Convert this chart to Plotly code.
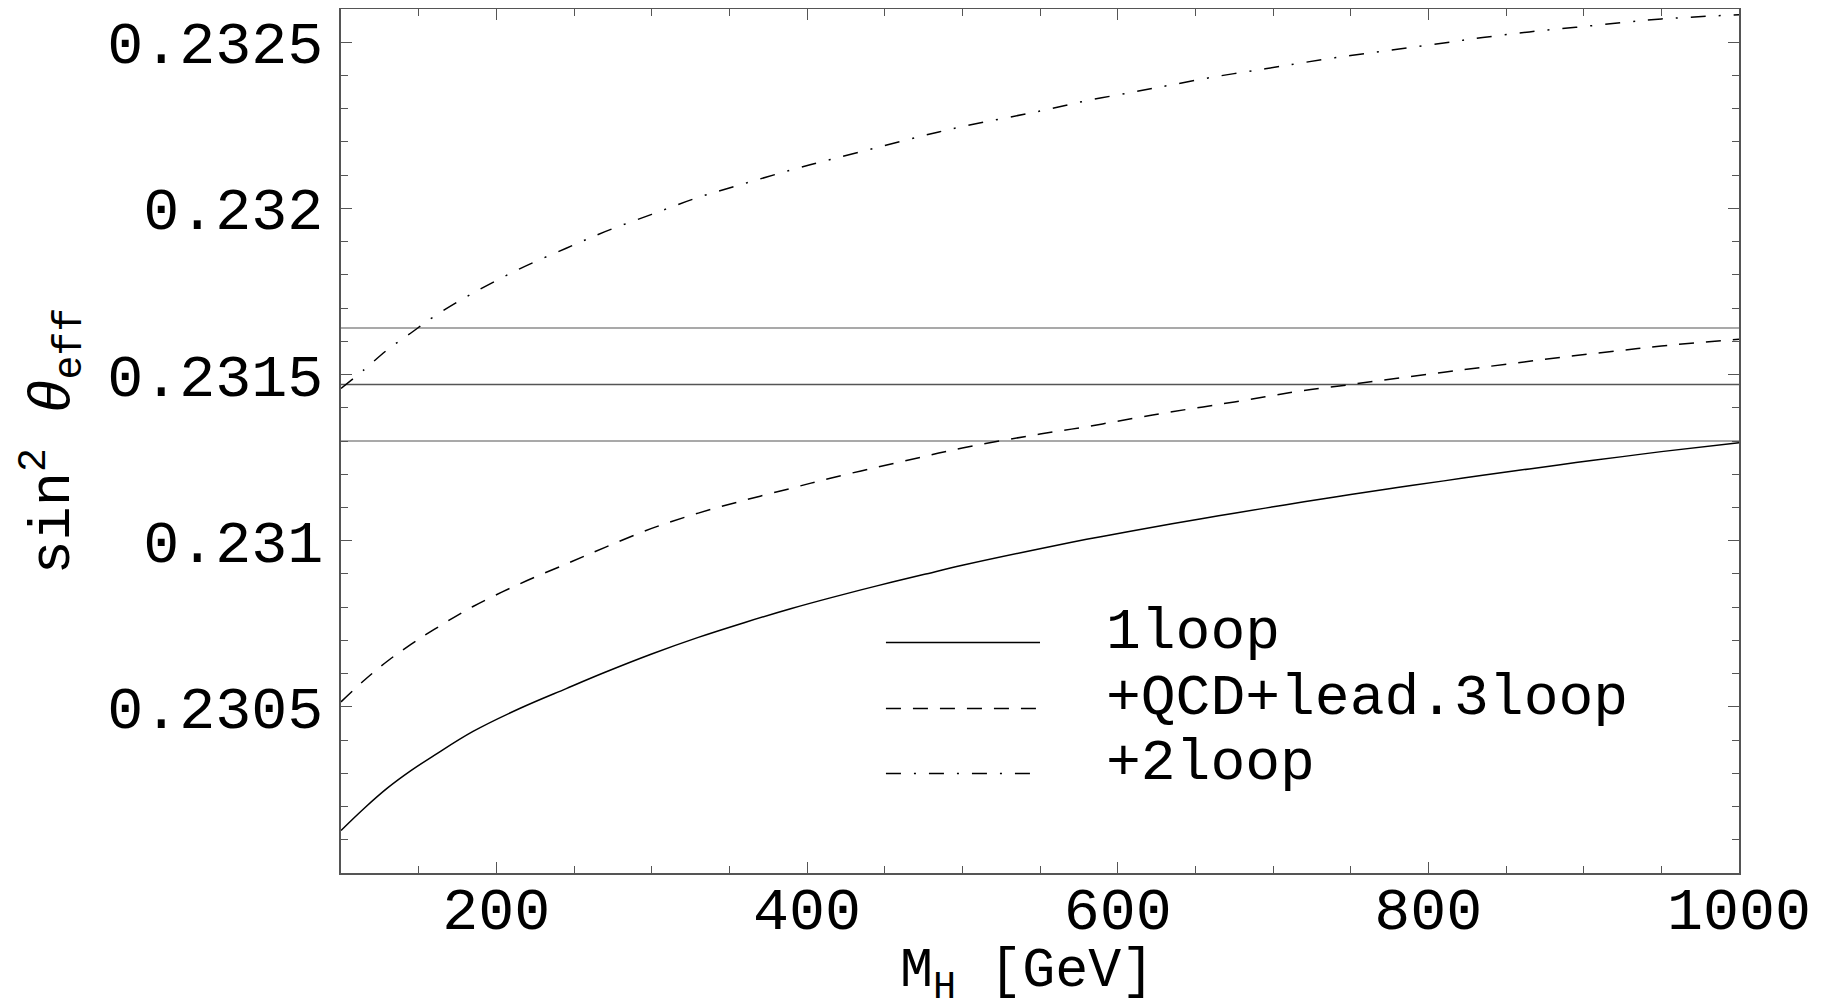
import plotly.graph_objects as go

# ---- data ----
mh = [100, 115, 130, 145, 160, 185, 215, 245, 270, 300, 330, 360, 390, 415, 445, 475, 500,
      550, 580, 610, 635, 665, 695, 720, 750, 780, 810, 835, 865, 895, 925, 950, 1000]

one_loop = [0.230128, 0.230195, 0.230256, 0.230308, 0.230354, 0.230426, 0.230495, 0.230555,
            0.230604, 0.230659, 0.230709, 0.230754, 0.230796, 0.230828, 0.230864, 0.230898,
            0.230926, 0.230976, 0.231004, 0.231030, 0.231051, 0.231075, 0.231098, 0.231117,
            0.231139, 0.231160, 0.231180, 0.231197, 0.231216, 0.231235, 0.231253, 0.231268,
            0.231295]

qcd_lead3loop = [0.230515, 0.230580, 0.230638, 0.230688, 0.230733, 0.230802, 0.230870, 0.230930,
                 0.230980, 0.231037, 0.231083, 0.231122, 0.231158, 0.231188, 0.231221, 0.231253,
                 0.231279, 0.231321, 0.231343, 0.231368, 0.231388, 0.231410, 0.231433, 0.231452,
                 0.231470, 0.231489, 0.231507, 0.231522, 0.231540, 0.231557, 0.231573, 0.231586,
                 0.231606]

two_loop = [0.231458, 0.231515, 0.231575, 0.231625, 0.231675, 0.231745, 0.231818, 0.231880,
            0.231930, 0.231982, 0.232033, 0.232075, 0.232116, 0.232147, 0.232183, 0.232219,
            0.232246, 0.232293, 0.232324, 0.232350, 0.232372, 0.232398, 0.232420, 0.232439,
            0.232460, 0.232479, 0.232498, 0.232514, 0.232531, 0.232545, 0.232559, 0.232570,
            0.232583]

exp_center = 0.23147
exp_error = 0.00017

series_names = ["1loop", "+QCD+lead.3loop", "+2loop"]

x_tick_vals = [200, 400, 600, 800, 1000]
x_tick_text = ["200", "400", "600", "800", "1000"]
y_tick_vals = [0.2305, 0.2310, 0.2315, 0.2320, 0.2325]
y_tick_text = ["0.2305", "0.231", "0.2315", "0.232", "0.2325"]

x_range = [100, 1000]
y_range = [0.2300, 0.2326]

# ---- styling ----
FONT = "Liberation Mono, Courier New, monospace"
AXIS_COL = "#555555"
DASH = "15px,12px"
DASHDOT = "15px,13px,2px,13px"

fig = go.Figure()

# experimental band lines
for val, col in [(exp_center + exp_error, "#8c8c8c"), (exp_center, "#555555"), (exp_center - exp_error, "#8c8c8c")]:
    fig.add_trace(go.Scatter(x=[x_range[0], x_range[1]], y=[val, val], mode="lines",
                             line=dict(color=col, width=1.5), showlegend=False, hoverinfo="skip"))

styles = [None, DASH, DASHDOT]
for name, ys, dash in zip(series_names, [one_loop, qcd_lead3loop, two_loop], styles):
    line = dict(color="black", width=1.5)
    if dash:
        line["dash"] = dash
    fig.add_trace(go.Scatter(x=mh, y=ys, mode="lines", name=name, line=line,
                             line_shape="spline", showlegend=False))

# manual legend (line samples + labels in paper coordinates)
leg_x0, leg_x1, leg_tx = 0.3898, 0.5, 0.5458
leg_y = [0.2669, 0.1904, 0.1151]
for name, dash, yy in zip(series_names, styles, leg_y):
    ln = dict(color="black", width=1.5)
    if dash:
        ln["dash"] = dash
    fig.add_shape(type="line", xref="paper", yref="paper", x0=leg_x0, x1=leg_x1, y0=yy, y1=yy, line=ln)
    fig.add_annotation(xref="paper", yref="paper", x=leg_tx, y=yy + 0.012, text=name, showarrow=False,
                       xanchor="left", yanchor="middle", font=dict(family=FONT, size=58, color="black"))

# axis titles
fig.add_annotation(xref="paper", yref="paper", x=-0.207, y=0.5, textangle=-90,
                   text="sin<sup>2</sup> <i>θ</i><sub>eff</sub>", showarrow=False,
                   xanchor="center", yanchor="middle",
                   font=dict(family=FONT, size=57, color="black"))
fig.add_annotation(xref="paper", yref="paper", x=0.491, y=-0.118,
                   text="M<sub>H</sub> [GeV]", showarrow=False,
                   xanchor="center", yanchor="middle",
                   font=dict(family=FONT, size=55, color="black"))

# page body has an 8px margin: the figure is offset by 8px, so size and margins compensate
fig.update_layout(
    width=1824, height=999,
    margin=dict(l=333, r=93, t=1, b=134, autoexpand=False),
    paper_bgcolor="white", plot_bgcolor="white",
    font=dict(family=FONT, color="black"),
    showlegend=False,
    xaxis=dict(range=x_range, tickvals=x_tick_vals, ticktext=x_tick_text, automargin=False,
               ticks="inside", ticklen=11, tickwidth=1.2, tickcolor=AXIS_COL,
               showline=True, linecolor=AXIS_COL, linewidth=1.5, mirror="ticks",
               showgrid=False, zeroline=False,
               tickfont=dict(family=FONT, size=60, color="black"), ticklabelstandoff=-18,
               minor=dict(dtick=50, tick0=100, ticks="inside", ticklen=7, tickwidth=1.2,
                          tickcolor=AXIS_COL, showgrid=False)),
    yaxis=dict(range=y_range, tickvals=y_tick_vals, ticktext=y_tick_text, automargin=False,
               ticks="inside", ticklen=11, tickwidth=1.2, tickcolor=AXIS_COL,
               showline=True, linecolor=AXIS_COL, linewidth=1.5, mirror="ticks",
               showgrid=False, zeroline=False,
               tickfont=dict(family=FONT, size=60, color="black"), ticklabelstandoff=4,
               minor=dict(dtick=0.0001, tick0=0.23, ticks="inside", ticklen=7, tickwidth=1.2,
                          tickcolor=AXIS_COL, showgrid=False)),
)

fig.write_html("out.html")
